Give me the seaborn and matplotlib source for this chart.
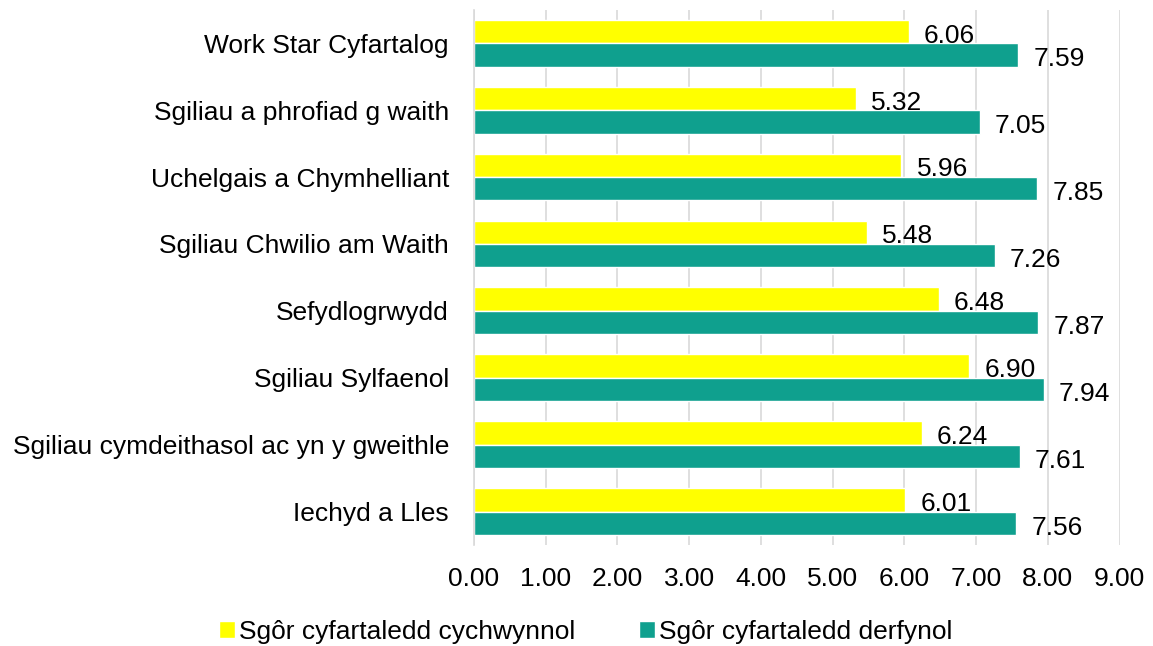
import matplotlib
matplotlib.use("Agg")
import matplotlib.pyplot as plt
import seaborn as sns
import pandas as pd

categories = [
    "Work Star Cyfartalog",
    "Sgiliau a phrofiad g waith",
    "Uchelgais a Chymhelliant",
    "Sgiliau Chwilio am Waith",
    "Sefydlogrwydd",
    "Sgiliau Sylfaenol",
    "Sgiliau cymdeithasol ac yn y gweithle",
    "Iechyd a Lles",
]
initial_scores = [6.06, 5.32, 5.96, 5.48, 6.48, 6.90, 6.24, 6.01]
final_scores = [7.59, 7.05, 7.85, 7.26, 7.87, 7.94, 7.61, 7.56]
series_names = ["Sgôr cyfartaledd cychwynnol", "Sgôr cyfartaledd derfynol"]
colors = ["#FFFF00", "#0FA08E"]

df = pd.DataFrame({
    "category": categories * 2,
    "score": initial_scores + final_scores,
    "series": [series_names[0]] * len(categories) + [series_names[1]] * len(categories),
})

sns.set_style("white")
plt.rcParams["font.family"] = ["Liberation Sans", "DejaVu Sans"]
plt.rcParams["text.color"] = "black"
plt.rcParams["xtick.color"] = "black"
plt.rcParams["ytick.color"] = "black"

fig = plt.figure(figsize=(11.53, 6.46), dpi=100)
ax = fig.add_axes([0.411, 0.156, 0.560, 0.829])

sns.barplot(data=df, x="score", y="category", hue="series", order=categories,
            hue_order=series_names, palette=colors, orient="h", width=0.7,
            saturation=1, ax=ax, legend=True)

fs = 19
for container in ax.containers:
    anns = ax.bar_label(container, fmt="%.2f", padding=11, fontsize=fs, color="black")
    for a in anns:
        x, y = a.xyann
        a.xyann = (x, y - 3)

ax.set_xlim(0, 9)
ax.set_xticks(range(10))
ax.set_xticklabels([f"{v:.2f}" for v in range(10)], fontsize=fs)
ax.tick_params(axis="y", labelsize=fs, length=0, pad=18)
ax.tick_params(axis="x", length=0, pad=16)
ax.set_xlabel("")
ax.set_ylabel("")
ax.grid(axis="x", color="#D9D9D9", linewidth=1.2)
ax.set_axisbelow(True)
for side in ["top", "right", "bottom"]:
    ax.spines[side].set_visible(False)
ax.spines["left"].set_color("#D9D9D9")
ax.spines["left"].set_linewidth(1.2)

handles, labels = ax.get_legend_handles_labels()
ax.legend_.remove()
fig.legend(handles, labels, loc="center", bbox_to_anchor=(0.508, 0.022), ncol=2,
           frameon=False, fontsize=fs, handlelength=0.6, handleheight=0.6,
           handletextpad=0.15, columnspacing=2.4)

fig.savefig("out.png", dpi=100)
